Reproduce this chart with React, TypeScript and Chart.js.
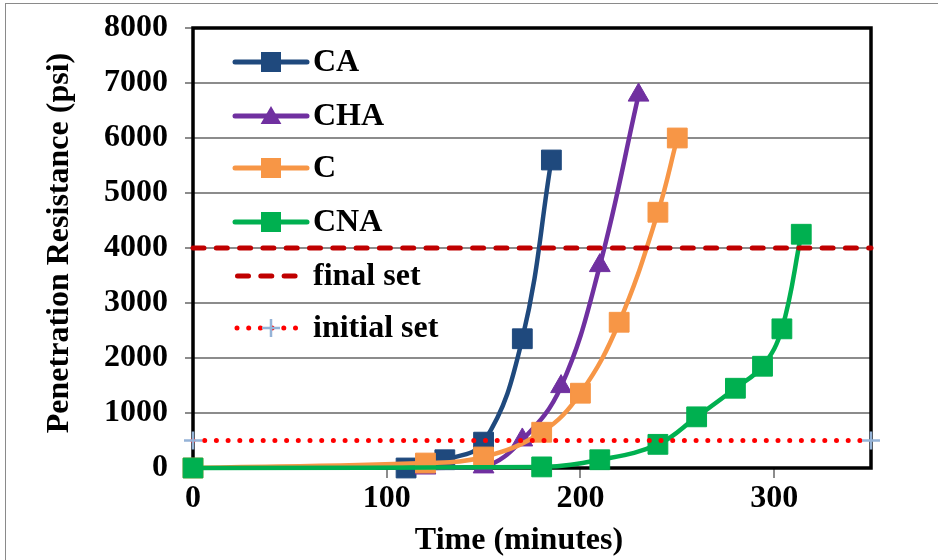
import React, { useEffect, useRef } from "react";
import { Chart, registerables } from "chart.js";

Chart.register(...registerables);

// ---- data ----
const caTime = [110, 130, 150, 170, 185];
const caPR = [0, 150, 470, 2350, 5600];
const chaTime = [120, 150, 170, 190, 210, 230];
const chaPR = [0, 20, 510, 1480, 3680, 6780];
const cTime = [0, 120, 150, 180, 200, 220, 240, 250];
const cPR = [0, 90, 200, 650, 1360, 2650, 4650, 6000];
const cnaTime = [0, 180, 210, 240, 260, 280, 294, 304, 314];
const cnaPR = [0, 20, 150, 430, 930, 1450, 1850, 2530, 4250];
const limitTime = [0, 350];
const finalSetPR = [4000, 4000];
const initialSetPR = [500, 500];
const xTicks = [0, 100, 200, 300];
const yTicks = [0, 1000, 2000, 3000, 4000, 5000, 6000, 7000, 8000];
const xTitle = "Time (minutes)";
const yTitle = "Penetration Resistance (psi)";
const legendLabels = ["CA", "CHA", "C", "CNA", "final set", "initial set"];

const COL_CA = "#1F497D";
const COL_CHA = "#7030A0";
const COL_C = "#F79646";
const COL_CNA = "#00B050";
const COL_FINAL = "#C00000";
const COL_INIT = "#FF0000";
const COL_CROSS = "#95B3D7";
const GRID = "#8c8c8c";
const FAMILY = "'Liberation Serif', 'Times New Roman', serif";
const FONT_SIZE = 32;

const pts = (xs: number[], ys: number[]) => xs.map((x, i) => ({ x, y: ys[i] }));

function drawSquare(ctx: CanvasRenderingContext2D, x: number, y: number, color: string) {
  ctx.fillStyle = color;
  ctx.fillRect(x - 10, y - 10, 20, 20);
}
function drawTriangle(ctx: CanvasRenderingContext2D, x: number, y: number, color: string) {
  const r = 12;
  ctx.fillStyle = color;
  ctx.beginPath();
  ctx.moveTo(x, y - r);
  ctx.lineTo(x + r * Math.sin(Math.PI * 2 / 3), y - r * Math.cos(Math.PI * 2 / 3));
  ctx.lineTo(x + r * Math.sin(Math.PI * 4 / 3), y - r * Math.cos(Math.PI * 4 / 3));
  ctx.closePath();
  ctx.fill();
}

const decorPlugin = {
  id: "decor",
  beforeDatasetsDraw(chart: any) {
    const { ctx, chartArea: a } = chart;
    ctx.save();
    ctx.strokeStyle = "#000";
    ctx.lineWidth = 3.5;
    ctx.strokeRect(a.left, a.top, a.right - a.left, a.bottom - a.top);
    ctx.restore();
  },
  afterDraw(chart: any) {
    const { ctx } = chart;
    ctx.save();
    ctx.font = `bold ${FONT_SIZE}px ${FAMILY}`;
    ctx.fillStyle = "#000";
    ctx.textBaseline = "middle";
    ctx.textAlign = "center";
    // axis titles
    ctx.fillText(xTitle, 519, 541);
    ctx.save();
    ctx.translate(60, 243);
    ctx.rotate(-Math.PI / 2);
    ctx.fillText(yTitle, 0, 0);
    ctx.restore();

    // legend
    const rows = [62, 116, 168, 222, 276, 328];
    const x0 = 235, x1 = 307, xm = 271, tx = 313;
    const seriesCols = [COL_CA, COL_CHA, COL_C, COL_CNA];
    for (let i = 0; i < 4; i++) {
      const y = rows[i];
      ctx.strokeStyle = seriesCols[i];
      ctx.lineWidth = 5;
      ctx.lineCap = "round";
      ctx.beginPath();
      ctx.moveTo(x0, y);
      ctx.lineTo(x1, y);
      ctx.stroke();
      if (i === 1) drawTriangle(ctx, xm, y + 2, seriesCols[i]);
      else drawSquare(ctx, xm, y, seriesCols[i]);
    }
    // final set
    ctx.strokeStyle = COL_FINAL;
    ctx.lineWidth = 5;
    ctx.lineCap = "round";
    ctx.setLineDash([11, 12.3]);
    ctx.beginPath();
    ctx.moveTo(x0 + 2.5, rows[4]);
    ctx.lineTo(298, rows[4]);
    ctx.stroke();
    // initial set
    ctx.strokeStyle = COL_INIT;
    ctx.setLineDash([0, 11.7]);
    ctx.beginPath();
    ctx.moveTo(x0 + 2, rows[5]);
    ctx.lineTo(300, rows[5]);
    ctx.stroke();
    ctx.setLineDash([]);
    ctx.strokeStyle = COL_CROSS;
    ctx.lineWidth = 2.5;
    ctx.lineCap = "butt";
    ctx.beginPath();
    ctx.moveTo(xm - 9, rows[5]);
    ctx.lineTo(xm + 9, rows[5]);
    ctx.moveTo(xm, rows[5] - 9);
    ctx.lineTo(xm, rows[5] + 9);
    ctx.stroke();

    ctx.fillStyle = "#000";
    ctx.textAlign = "left";
    for (let i = 0; i < legendLabels.length; i++) {
      ctx.fillText(legendLabels[i], tx, rows[i] + 1);
    }
    ctx.restore();
  },
};

export default function App() {
  const ref = useRef<HTMLCanvasElement | null>(null);

  useEffect(() => {
    if (!ref.current) return;
    const tickFont = { family: FAMILY, size: FONT_SIZE, weight: "bold" as const };
    const seriesCommon = {
      borderWidth: 4.5,
      tension: 0.4,
      pointBorderWidth: 1,
      clip: false as const,
      fill: false,
    };
    const chart = new Chart(ref.current, {
      type: "line",
      data: {
        datasets: [
          {
            label: "CA",
            data: pts(caTime, caPR),
            borderColor: COL_CA,
            backgroundColor: COL_CA,
            pointBackgroundColor: COL_CA,
            pointBorderColor: COL_CA,
            pointStyle: "rect",
            pointRadius: 14,
            order: 5,
            ...seriesCommon,
          },
          {
            label: "CHA",
            data: pts(chaTime, chaPR),
            borderColor: COL_CHA,
            backgroundColor: COL_CHA,
            pointBackgroundColor: COL_CHA,
            pointBorderColor: COL_CHA,
            pointStyle: "triangle",
            pointRadius: 12,
            order: 4,
            ...seriesCommon,
          },
          {
            label: "C",
            data: pts(cTime, cPR),
            borderColor: COL_C,
            backgroundColor: COL_C,
            pointBackgroundColor: COL_C,
            pointBorderColor: COL_C,
            pointStyle: "rect",
            pointRadius: 14,
            order: 3,
            ...seriesCommon,
          },
          {
            label: "CNA",
            data: pts(cnaTime, cnaPR),
            borderColor: COL_CNA,
            backgroundColor: COL_CNA,
            pointBackgroundColor: COL_CNA,
            pointBorderColor: COL_CNA,
            pointStyle: "rect",
            pointRadius: 14,
            order: 2,
            ...seriesCommon,
          },
          {
            label: "final set",
            data: pts(limitTime, finalSetPR),
            borderColor: COL_FINAL,
            backgroundColor: COL_FINAL,
            borderWidth: 5,
            borderDash: [11, 12.3],
            borderCapStyle: "round",
            pointRadius: 0,
            order: 1,
            clip: false,
            fill: false,
          },
          {
            label: "initial set",
            data: pts(limitTime, initialSetPR),
            borderColor: COL_INIT,
            backgroundColor: COL_INIT,
            borderWidth: 5,
            borderDash: [0, 11.7],
            borderCapStyle: "round",
            pointStyle: "cross",
            pointRadius: 9,
            pointBorderColor: COL_CROSS,
            pointBorderWidth: 2.5,
            order: 0,
            clip: false,
            fill: false,
          },
        ],
      },
      options: {
        responsive: false,
        animation: false,
        devicePixelRatio: 1,
        events: [],
        layout: { padding: { left: 0, right: 67, top: 28, bottom: 0 } },
        plugins: {
          legend: { display: false },
          tooltip: { enabled: false },
        },
        scales: {
          x: {
            type: "linear",
            min: 0,
            max: 350,
            afterBuildTicks: (s: any) => {
              s.ticks = xTicks.map((v) => ({ value: v }));
            },
            afterFit: (s: any) => {
              s.height = 92;
              s.paddingLeft = 0;
              s.paddingRight = 0;
            },
            border: { display: false },
            grid: {
              drawOnChartArea: false,
              drawTicks: true,
              tickLength: 10,
              tickColor: GRID,
              lineWidth: 2,
              color: GRID,
            },
            ticks: {
              font: tickFont,
              color: "#000",
              padding: 2,
              maxRotation: 0,
              callback: (v: any) => String(v),
            },
          },
          y: {
            type: "linear",
            min: 0,
            max: 8000,
            afterBuildTicks: (s: any) => {
              s.ticks = yTicks.map((v) => ({ value: v }));
            },
            afterFit: (s: any) => {
              s.width = 193;
              s.paddingTop = 0;
              s.paddingBottom = 0;
            },
            border: { display: false },
            grid: {
              color: GRID,
              lineWidth: 2,
              drawTicks: true,
              tickLength: 8,
              tickColor: GRID,
            },
            ticks: {
              font: tickFont,
              color: "#000",
              padding: 17,
              callback: (v: any) => String(v),
            },
          },
        },
      },
      plugins: [decorPlugin],
    } as any);
    return () => chart.destroy();
  }, []);

  return (
    <div style={{ position: "absolute", left: 0, top: 0, width: 938, height: 560, overflow: "hidden", background: "#fff" }}>
      <div
        style={{
          position: "absolute",
          left: 5,
          top: 3,
          width: 960,
          height: 600,
          border: "1.5px solid #8a8a8a",
          boxSizing: "border-box",
        }}
      />
      <canvas
        ref={ref}
        width={938}
        height={560}
        style={{ position: "absolute", left: 0, top: 0, display: "block" }}
      />
    </div>
  );
}
